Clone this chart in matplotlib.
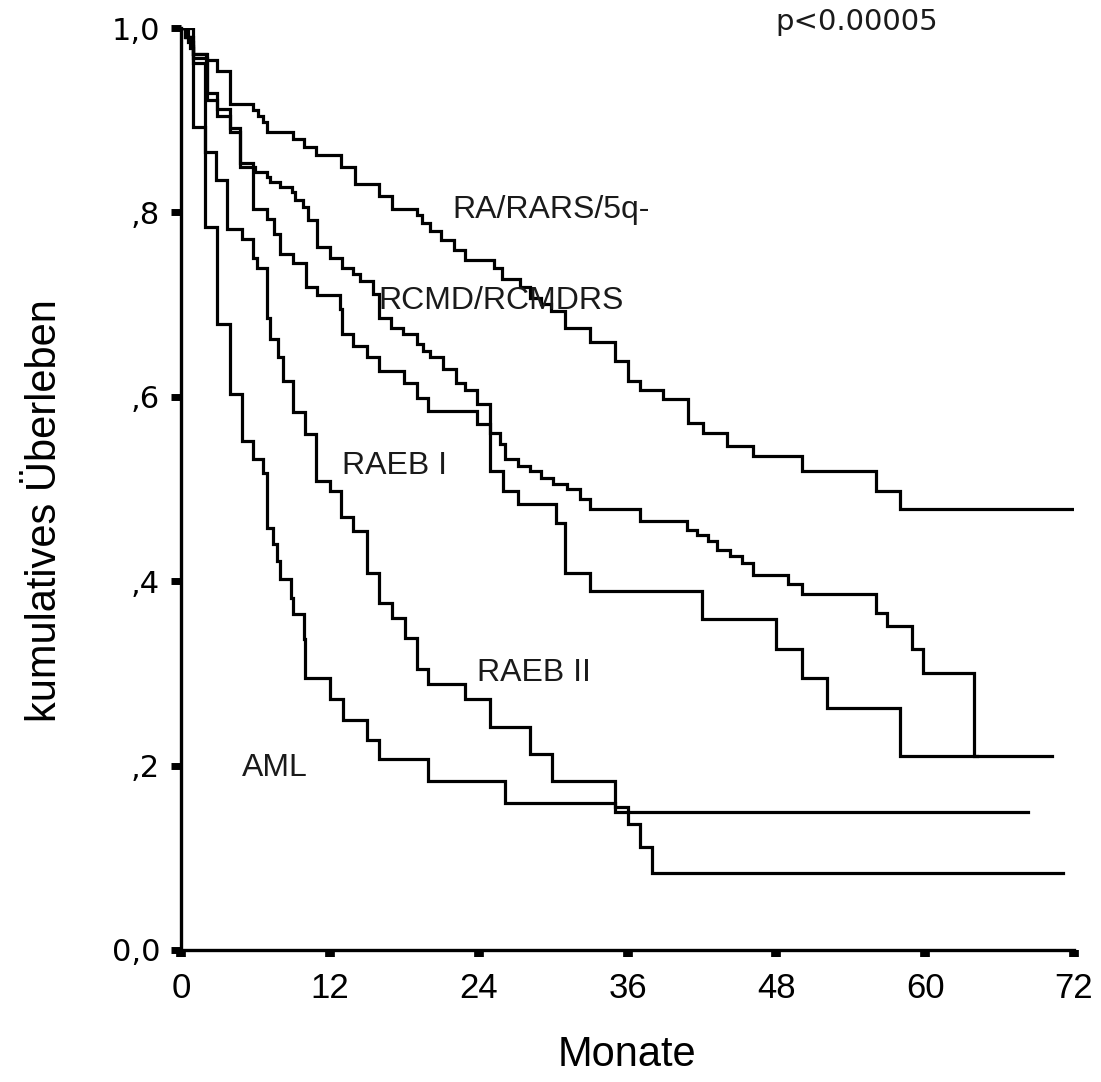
import matplotlib
matplotlib.use('Agg')
import matplotlib.pyplot as plt

# Kaplan-Meier curves: time of each step (months) and survival after it
ra_t = [0, 0.3, 0.8, 1.0, 2.0, 2.9, 3.95, 5.8, 6.2, 6.6, 6.9, 9.0, 9.9, 10.9, 12.9, 14.0, 16.0, 17.0, 19.0, 19.4,
        20.1, 21.0, 22.0, 22.9, 25.2, 25.9, 27.3, 28.1, 29.0, 29.8, 31.0, 33.0, 35.0, 36.0, 37.0, 38.9, 40.9, 42.1,
        44.0, 46.1, 50.1, 56.0, 58.0, 72.2]
ra_s = [1.0, 0.99, 0.98, 0.972, 0.965, 0.953, 0.918, 0.911, 0.905, 0.898, 0.887, 0.880, 0.871, 0.862, 0.849, 0.831,
        0.818, 0.804, 0.797, 0.788, 0.780, 0.770, 0.759, 0.748, 0.740, 0.728, 0.719, 0.707, 0.701, 0.693, 0.675,
        0.659, 0.639, 0.617, 0.607, 0.598, 0.572, 0.561, 0.547, 0.536, 0.520, 0.498, 0.478, 0.478]

rcmd_t = [0, 0.6, 1.0, 2.1, 2.9, 3.95, 4.75, 6.0, 6.9, 7.2, 8.0, 8.95, 9.2, 9.8, 10.2, 11.0, 12.0, 13.0, 13.9, 14.4,
          15.5, 16.0, 16.9, 17.9, 19.0, 19.5, 20.1, 21.1, 22.2, 22.9, 23.9, 24.9, 25.7, 26.1, 27.2, 28.1, 29.0, 30.0,
          31.1, 32.2, 33.0, 37.0, 40.8, 41.6, 42.5, 43.2, 44.3, 45.2, 46.1, 48.9, 50.1, 56.0, 56.9, 58.9, 59.8,
          63.9, 64.2]
rcmd_s = [1.0, 0.985, 0.968, 0.922, 0.905, 0.887, 0.849, 0.844, 0.838, 0.833, 0.828, 0.822, 0.813, 0.806, 0.792,
          0.762, 0.751, 0.740, 0.733, 0.726, 0.712, 0.685, 0.675, 0.668, 0.657, 0.650, 0.643, 0.630, 0.615, 0.607,
          0.592, 0.561, 0.549, 0.533, 0.525, 0.519, 0.512, 0.505, 0.500, 0.489, 0.478, 0.465, 0.455, 0.450, 0.444,
          0.434, 0.427, 0.420, 0.407, 0.397, 0.386, 0.365, 0.351, 0.326, 0.300, 0.210, 0.210]

raeb1_t = [0, 0.4, 1.0, 2.1, 2.9, 3.95, 4.75, 5.8, 6.9, 7.5, 8.0, 9.0, 10.1, 11.0, 12.8, 13.0, 13.9, 15.0, 16.0, 18.0,
           19.0, 19.9, 23.9, 24.9, 26.0, 27.2, 30.2, 31.0, 33.0, 42.0, 48.0, 50.1, 52.1, 58.0, 70.2]
raeb1_s = [1.0, 0.99, 0.972, 0.93, 0.912, 0.892, 0.854, 0.804, 0.793, 0.777, 0.755, 0.745, 0.719, 0.710, 0.695,
           0.668, 0.655, 0.643, 0.628, 0.615, 0.599, 0.585, 0.571, 0.520, 0.498, 0.484, 0.463, 0.409, 0.389, 0.359,
           0.327, 0.295, 0.262, 0.210, 0.210]

raeb2_t = [0, 0.3, 0.7, 1.0, 1.96, 2.8, 3.7, 4.9, 5.8, 6.1, 6.9, 7.2, 7.8, 8.2, 9.0, 10.0, 10.9, 12.0, 12.9, 13.9,
           15.0, 16.0, 17.0, 18.1, 19.0, 19.9, 22.9, 24.9, 28.1, 29.9, 35.0, 36.0, 37.0, 38.0, 71.1]
raeb2_s = [1.0, 0.99, 0.978, 0.962, 0.866, 0.835, 0.782, 0.771, 0.751, 0.740, 0.685, 0.663, 0.643, 0.617, 0.583,
           0.560, 0.509, 0.498, 0.470, 0.454, 0.409, 0.376, 0.360, 0.338, 0.305, 0.289, 0.272, 0.242, 0.213, 0.183,
           0.155, 0.137, 0.112, 0.083, 0.083]

aml_t = [0, 1.0, 1.94, 2.9, 3.95, 4.9, 5.8, 6.6, 6.9, 7.4, 7.7, 8.0, 8.9, 9.05, 9.9, 10.0, 12.0, 13.1, 15.0, 16.0,
         19.9, 26.1, 35.0, 68.3]
aml_s = [1.0, 0.893, 0.784, 0.679, 0.603, 0.552, 0.533, 0.517, 0.458, 0.440, 0.422, 0.402, 0.382, 0.364, 0.337,
         0.295, 0.272, 0.250, 0.228, 0.207, 0.183, 0.159, 0.150, 0.150]

# label text and where it sits (left edge month, vertical centre)
group_labels = ['RA/RARS/5q-', 'RCMD/RCMDRS', 'RAEB I', 'RAEB II', 'AML']
label_pos = [(21.9, 0.803), (15.9, 0.704), (13.0, 0.525), (23.9, 0.30), (4.9, 0.197)]

x_ticks = [0, 12, 24, 36, 48, 60, 72]
y_ticks = [0.0, 0.2, 0.4, 0.6, 0.8, 1.0]
y_ticklabels = ['0,0', ',2', ',4', ',6', ',8', '1,0']

narrow = ['Liberation Sans Narrow', 'Liberation Sans', 'DejaVu Sans']
arial = ['Liberation Sans', 'DejaVu Sans']

fig = plt.figure(figsize=(11.01, 10.82), dpi=100)
ax = fig.add_axes([0.1644, 0.1220, 0.8111, 0.8521])

for t, s in [(ra_t, ra_s), (rcmd_t, rcmd_s), (raeb1_t, raeb1_s), (raeb2_t, raeb2_s), (aml_t, aml_s)]:
    ax.step(t, s, where='post', color='black', linewidth=2.3, solid_joinstyle='miter')

for txt, (x, y) in zip(group_labels, label_pos):
    ax.text(x, y, txt, fontsize=23, family=arial, color='#1a1a1a', ha='left', va='center')

ax.text(47.9, 1.007, 'p<0.00005', fontsize=21, family='DejaVu Sans', color='#1a1a1a',
        ha='left', va='center', clip_on=False)

ax.set_xlim(0, 72)
ax.set_ylim(0, 1.0)
ax.spines['top'].set_visible(False)
ax.spines['right'].set_visible(False)
for sp in ['left', 'bottom']:
    ax.spines[sp].set_linewidth(2.4)

ax.set_xticks(x_ticks)
ax.set_xticklabels([str(v) for v in x_ticks], family=narrow, fontsize=25)
ax.set_yticks(y_ticks)
ax.set_yticklabels(y_ticklabels, family='DejaVu Sans', fontsize=22)
ax.tick_params(axis='y', direction='out', length=7, width=5, pad=8)
ax.tick_params(axis='x', direction='out', length=5, width=7, pad=11)

ax.set_xlabel('Monate', family=narrow, fontsize=30)
ax.xaxis.set_label_coords(0.4994, -0.114)
ax.xaxis.label.set_va('center')
ax.set_ylabel('kumulatives Überleben', family=narrow, fontsize=30)
ax.yaxis.set_label_coords(-0.152, 0.477)
ax.yaxis.label.set_va('center')

fig.savefig('out.png', dpi=100, facecolor='white')
